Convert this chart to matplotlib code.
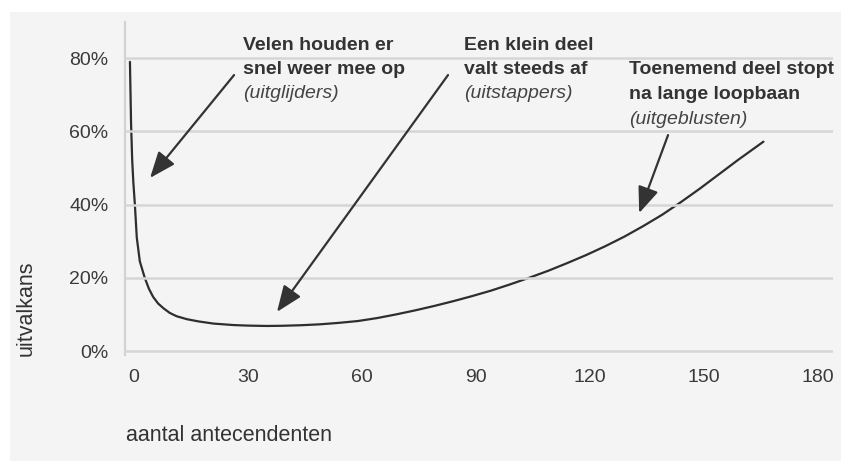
import matplotlib
matplotlib.use("Agg")
import matplotlib.pyplot as plt
import matplotlib.transforms as mtrans
from matplotlib.patches import Rectangle, FancyArrowPatch

plt.rcParams['font.family'] = ['Liberation Sans', 'DejaVu Sans']

# data
x_vals = [0, 0.3, 0.6, 0.9, 1.3, 1.8, 2.6, 3.9, 5.0, 6.1, 7.4, 8.8, 10.5, 12.3,
          15, 18, 22, 27.2, 31, 36, 40, 45, 50, 55, 60, 65, 70, 75, 80, 85, 90,
          95, 100, 105, 110, 115, 120, 125, 130, 135, 140, 145, 150, 155, 160, 166.7]
y_vals = [79, 62, 52, 46, 40, 31, 24.5, 20, 17, 14.8, 13, 11.7, 10.4, 9.5,
          8.7, 8.1, 7.5, 7.1, 6.95, 6.85, 6.9, 7.05, 7.3, 7.7, 8.2, 9.0, 10.0, 11.1,
          12.3, 13.6, 15.0, 16.5, 18.2, 20.0, 21.9, 24.0, 26.2, 28.6, 31.2, 34.1,
          37.2, 40.7, 44.4, 48.3, 52.2, 57.2]
x_ticks = [0, 30, 60, 90, 120, 150, 180]
y_ticks = [0, 20, 40, 60, 80]
y_tick_labels = ['0%', '20%', '40%', '60%', '80%']

ann_lines = [["Velen houden er", "snel weer mee op"],
             ["Een klein deel", "valt steeds af"],
             ["Toenemend deel stopt", "na lange loopbaan"]]
ann_italic = ["(uitglijders)", "(uitstappers)", "(uitgeblusten)"]
ann_text_x = [29.8, 87.9, 131.3]
ann_arrow_start = [(27.4, 75.4), (83.7, 75.4), (141.6, 59.0)]
ann_arrow_tip = [(5.3, 47.3), (38.7, 10.7), (134.0, 37.7)]
ann_top_px = [45, 45, 70]

W, H = 841, 461
fig = plt.figure(figsize=(W / 100, H / 100), dpi=100, facecolor='white')
bg = Rectangle((10 / W, 0), 1 - 10 / W, (H - 12) / H, transform=fig.transFigure,
               facecolor='#f4f4f4', edgecolor='none', zorder=-10)
fig.patches.append(bg)

ax_l, ax_r, ax_t, ax_b = 125, 833, 21.6, 354.7
ax = fig.add_axes([ax_l / W, (H - ax_b) / H, (ax_r - ax_l) / W, (ax_b - ax_t) / H])
ax.set_facecolor('none')
ax.set_xlim(-1.3, 185)
ax.set_ylim(-1, 90)

for s in ['top', 'right', 'bottom']:
    ax.spines[s].set_visible(False)
ax.spines['left'].set_color('#d2d2d2')
ax.spines['left'].set_linewidth(1.6)

ax.set_yticks(y_ticks)
ax.set_yticklabels(y_tick_labels)
ax.set_xticks(x_ticks)
ax.set_xticklabels([str(t) for t in x_ticks])
ax.tick_params(axis='both', length=0, labelsize=14, labelcolor='#3a3a3a')
ax.tick_params(axis='y', pad=12)
ax.tick_params(axis='x', pad=10)
for lab in ax.get_xticklabels():
    lab.set_transform(lab.get_transform() + mtrans.ScaledTranslation(4 / 100, 0, fig.dpi_scale_trans))

for yv in y_ticks:
    ax.axhline(yv, color='#d6d6d6', lw=1.8, zorder=3)

ax.plot(x_vals, y_vals, color='#2e2e2e', lw=1.6, zorder=2,
        solid_capstyle='round', solid_joinstyle='round')

blend = mtrans.blended_transform_factory(ax.transData, fig.transFigure)


def px_to_y(py):
    return 1 - py / H


for lines, ital, tx, top_py, start, tip in zip(ann_lines, ann_italic, ann_text_x,
                                               ann_top_px, ann_arrow_start, ann_arrow_tip):
    n = len(lines)
    for i, ln in enumerate(lines):
        ax.text(tx, px_to_y(top_py + 24.5 * i), ln, transform=blend, fontsize=14,
                fontweight='bold', color='#333333', ha='left', va='center', zorder=6)
    ax.text(tx, px_to_y(top_py + 24.5 * n), ital, transform=blend, fontsize=14,
            fontstyle='italic', color='#444444', ha='left', va='center', zorder=6)
    arr = FancyArrowPatch(start, tip, arrowstyle='-|>,head_length=0.8,head_width=0.32',
                          mutation_scale=20, color='#333333', lw=1.6, zorder=7,
                          shrinkA=0, shrinkB=0)
    ax.add_patch(arr)

fig.text(26 / W, px_to_y(308), 'uitvalkans', rotation=90, fontsize=15.5,
         color='#333333', ha='center', va='center')
fig.text(126 / W, px_to_y(435), 'aantal antecendenten', fontsize=15.5,
         color='#333333', ha='left', va='center')

fig.savefig('out.png', dpi=100, facecolor=fig.get_facecolor())
